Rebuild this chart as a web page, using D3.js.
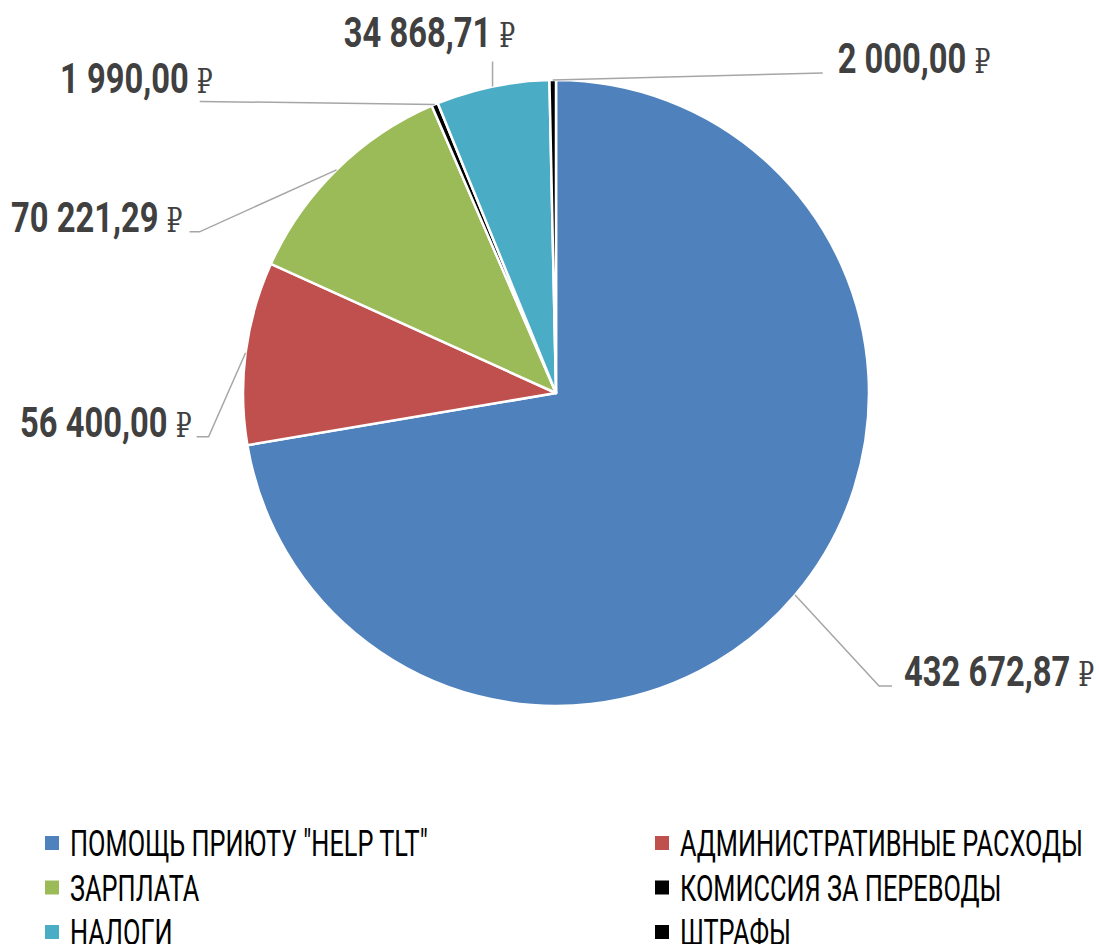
<!DOCTYPE html>
<html>
<head>
<meta charset="utf-8">
<script src="https://cdn.jsdelivr.net/npm/d3@7"></script>
<style>
  body { margin: 0; background: #fff; }
  svg { display: block; }
</style>
</head>
<body>
<div id="chart"></div>
<script>
// data
const categories = ["ПОМОЩЬ ПРИЮТУ \"HELP TLT\"", "АДМИНИСТРАТИВНЫЕ РАСХОДЫ", "ЗАРПЛАТА",
                    "КОМИССИЯ ЗА ПЕРЕВОДЫ", "НАЛОГИ", "ШТРАФЫ"];
const amounts = [432672.87, 56400.00, 70221.29, 1990.00, 34868.71, 2000.00];
const colors = ["#4F81BD", "#C0504D", "#9BBB59", "#000000", "#4BACC6", "#000000"];

// leader elbows relative to the arc point, text offset relative to the last leader point
const labelLayout = [
  {pts: [[84, 91], [97, 91]],   dx: 12,  dy: 0,   anchor: "start"},
  {pts: [[-37, 84], [-49, 84]], dx: -5,  dy: 0,   anchor: "end"},
  {pts: [[-137, 62], [-147, 62]], dx: -7, dy: 0,  anchor: "end"},
  {pts: [[-235, -3]],           dx: 13,  dy: -8,  anchor: "end"},
  {pts: [[0, -25]],             dx: -63, dy: -14, anchor: "middle"},
  {pts: [[270, -7]],            dx: 15,  dy: 0,   anchor: "start"}
];

const width = 1099, height = 944;
const cx = 556, cy = 393, radius = 313;
const squeezeLabel = 0.76, squeezeLegend = 0.685;

const ru = d3.formatLocale({decimal: ",", thousands: "\u00a0", grouping: [3], currency: ["", ""]});
const fmt = ru.format(",.2f");

const svg = d3.select("#chart")
  .append("svg")
    .attr("width", width)
    .attr("height", height);

const pie = d3.pie().sort(null).value(d => d);
const arcs = pie(amounts);

const arc = d3.arc().innerRadius(0).outerRadius(radius);

const g = svg.append("g")
  .attr("transform", `translate(${cx},${cy})`);

g.selectAll("path.slice")
  .data(arcs)
  .join("path")
    .attr("class", "slice")
    .attr("d", arc)
    .attr("fill", (d, i) => colors[i])
    .attr("stroke", "#fff")
    .attr("stroke-width", 2.5)
    .attr("stroke-linejoin", "round");

// leader lines + labels
arcs.forEach(function(d, i) {
  const a = (d.startAngle + d.endAngle) / 2;
  const p0 = [radius * Math.sin(a), -radius * Math.cos(a)];
  const lay = labelLayout[i];
  const pts = [p0].concat(lay.pts.map(p => [p0[0] + p[0], p0[1] + p[1]]));
  const last = pts[pts.length - 1];

  g.append("path")
    .attr("d", d3.line()(pts))
    .attr("fill", "none")
    .attr("stroke", "#A6A6A6")
    .attr("stroke-width", 1.5);

  const t = g.append("text")
    .attr("transform", `translate(${last[0] + lay.dx},${last[1] + lay.dy}) scale(${squeezeLabel},1)`)
    .attr("text-anchor", lay.anchor)
    .attr("font-family", "Roboto, sans-serif")
    .attr("font-weight", "bold")
    .attr("font-size", 43)
    .attr("fill", "#404040");
  t.append("tspan").text(fmt(amounts[i]) + " ");
  t.append("tspan")
    .attr("font-family", "'DejaVu Serif', serif")
    .attr("font-weight", "normal")
    .attr("font-size", 33)
    .text("₽");
});

// legend: two columns, filled row by row
const legendX = [45, 655], legendY = 843, rowStep = 44.5, box = 14;
const legend = svg.append("g").attr("class", "legend");

categories.forEach(function(c, i) {
  const col = i % 2, row = Math.floor(i / 2);
  const x = legendX[col], y = legendY + row * rowStep;
  legend.append("rect")
    .attr("x", x)
    .attr("y", y - box / 2)
    .attr("width", box)
    .attr("height", box)
    .attr("fill", colors[i]);
  legend.append("text")
    .attr("transform", `translate(${x + box + 11},${y + 13}) scale(${squeezeLegend},1)`)
    .attr("font-family", "Roboto, sans-serif")
    .attr("font-size", 37)
    .attr("fill", "#000")
    .text(c);
});
</script>
</body>
</html>
